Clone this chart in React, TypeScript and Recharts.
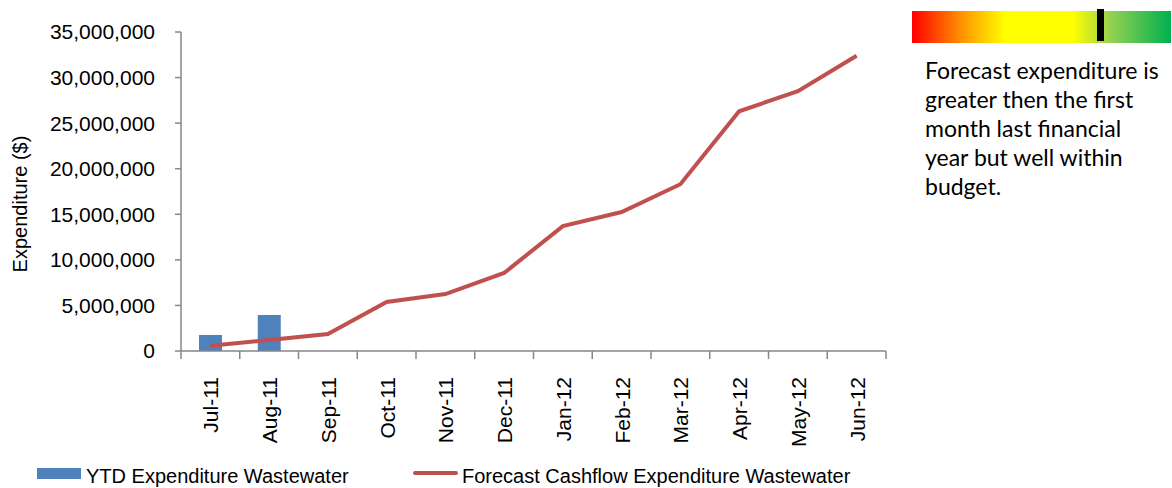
import { ComposedChart, Bar, Line, XAxis, YAxis } from "recharts";

const months = ["Jul-11", "Aug-11", "Sep-11", "Oct-11", "Nov-11", "Dec-11", "Jan-12", "Feb-12", "Mar-12", "Apr-12", "May-12", "Jun-12"];
const ytdExpenditure = [1760000, 3950000, null, null, null, null, null, null, null, null, null, null];
const forecastCashflow = [580000, 1200000, 1870000, 5380000, 6250000, 8560000, 13700000, 15250000, 18300000, 26300000, 28500000, 32400000];
const yTicks = [0, 5000000, 10000000, 15000000, 20000000, 25000000, 30000000, 35000000];
const noteLines = ["Forecast expenditure is", "greater then the first", "month last financial", "year but well within", "budget."];

const data = months.map((month, i) => ({
  month,
  ytd: ytdExpenditure[i],
  forecast: forecastCashflow[i],
}));

const FONT = "'Liberation Sans', Arial, sans-serif";
const AXIS = "#868686";

function MonthTick(props: any) {
  const { x, y, payload, index, width, visibleTicksCount } = props;
  const band = width / visibleTicksCount;
  const left = x - band / 2;
  return (
    <g>
      <line x1={left} x2={left} y1={y} y2={y + 8} stroke={AXIS} strokeWidth={1.5} />
      {index === visibleTicksCount - 1 && (
        <line x1={left + band} x2={left + band} y1={y} y2={y + 8} stroke={AXIS} strokeWidth={1.5} />
      )}
      <text
        transform={`translate(${x + 8},${y + 26}) rotate(-90)`}
        textAnchor="end"
        fontSize={21}
        fontFamily={FONT}
        fill="#000"
      >
        {payload.value}
      </text>
    </g>
  );
}

export default function App() {
  return (
    <div style={{ position: "absolute", left: 0, top: 0, width: 1172, height: 488, background: "#fff", overflow: "hidden" }}>
      <ComposedChart width={900} height={488} data={data} margin={{ top: 32, right: 14, bottom: 0, left: 0 }}>
        <XAxis
          dataKey="month"
          height={137}
          interval={0}
          tickLine={false}
          tickSize={0}
          tickMargin={0}
          axisLine={{ stroke: AXIS, strokeWidth: 1.5 }}
          tick={<MonthTick />}
        />
        <YAxis
          width={181}
          domain={[0, 35000000]}
          ticks={yTicks}
          interval={0}
          tickSize={6}
          tickMargin={20}
          axisLine={{ stroke: AXIS, strokeWidth: 1.5 }}
          tickLine={{ stroke: AXIS, strokeWidth: 1.5 }}
          tick={{ fontSize: 21, fill: "#000", fontFamily: FONT }}
          tickFormatter={(v) => Number(v).toLocaleString("en-US")}
        />
        <Bar dataKey="ytd" fill="#4F81BD" barSize={23} isAnimationActive={false} />
        <Line dataKey="forecast" stroke="#C0504D" strokeWidth={4} dot={false} type="linear" isAnimationActive={false} />
      </ComposedChart>

      <svg width={1172} height={488} style={{ position: "absolute", left: 0, top: 0, pointerEvents: "none" }}>
        <defs>
          <linearGradient id="gauge" x1="0" x2="1" y1="0" y2="0">
            <stop offset="0" stopColor="#FF0000" />
            <stop offset="0.2" stopColor="#FF9900" />
            <stop offset="0.36" stopColor="#FFFF00" />
            <stop offset="0.62" stopColor="#FFFF00" />
            <stop offset="0.77" stopColor="#92D050" />
            <stop offset="1" stopColor="#00B050" />
          </linearGradient>
        </defs>
        <text
          transform="translate(27,204) rotate(-90)"
          textAnchor="middle"
          fontSize={20}
          fontFamily={FONT}
          fill="#000"
        >
          Expenditure ($)
        </text>

        <rect x={37} y={468} width={44} height={11} fill="#4F81BD" />
        <text x={86} y={483} fontSize={20} fontFamily={FONT} fill="#000">YTD Expenditure Wastewater</text>
        <line x1={415} x2={456} y1={473} y2={473} stroke="#C0504D" strokeWidth={4} strokeLinecap="round" />
        <text x={462} y={483} fontSize={20} fontFamily={FONT} fill="#000">Forecast Cashflow Expenditure Wastewater</text>

        <rect x={912} y={11} width={259} height={32} fill="url(#gauge)" />
        <rect x={1097} y={9} width={7} height={32} fill="#000" />
        <text fontSize={23} fontFamily="Lato, 'Open Sans', sans-serif" fill="#000">
          {noteLines.map((line, i) => (
            <tspan key={line} x={925} y={79 + i * 29}>{line}</tspan>
          ))}
        </text>
      </svg>
    </div>
  );
}
